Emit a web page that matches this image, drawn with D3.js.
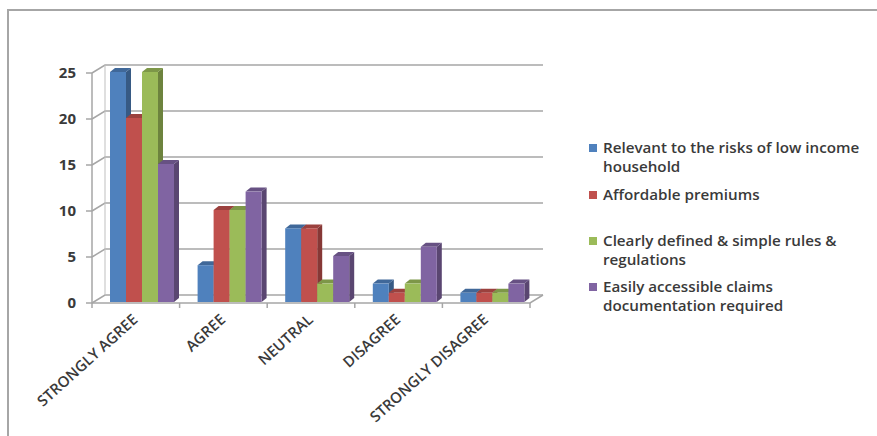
<!DOCTYPE html>
<html>
<head>
<meta charset="utf-8">
<script src="https://d3js.org/d3.v7.min.js"></script>
<style>
  body { margin: 0; background: #fff; }
  text { font-family: "Open Sans", "DejaVu Sans", sans-serif; fill: #3a3a3a; }
</style>
</head>
<body>
<div id="chart"></div>
<script>
var categories = ['STRONGLY AGREE', 'AGREE', 'NEUTRAL', 'DISAGREE', 'STRONGLY DISAGREE'];
var seriesNames = [
    ['Relevant to the risks of low income', 'household'],
    ['Affordable premiums'],
    ['Clearly defined & simple rules &', 'regulations'],
    ['Easily accessible claims', 'documentation required']
];
var relevant = [25, 4, 8, 2, 1];
var affordable = [20, 10, 8, 1, 1];
var clearlyDefined = [25, 10, 2, 2, 1];
var easilyAccessible = [15, 12, 5, 6, 2];
var yTicks = [0, 5, 10, 15, 20, 25];

var series = [relevant, affordable, clearlyDefined, easilyAccessible];
var colors = ['#4f81bd', '#c0504d', '#9bbb59', '#8064a2'];

var width = 877, height = 436;
var depthX = 13, depthY = -8;   // back wall offset
var barDX = 5, barDY = -4;      // bar thickness

var svg = d3.select('#chart').append('svg')
    .attr('width', width)
    .attr('height', height);

// outer frame (top and left edge only visible)
svg.append('path')
    .attr('d', 'M8,' + height + ' L8,10 L' + width + ',10')
    .attr('fill', 'none')
    .attr('stroke', '#a6a6a6')
    .attr('stroke-width', 2);

var x0 = d3.scaleBand().domain(categories).range([92, 530]);
var x1 = d3.scaleBand().domain(d3.range(series.length)).range([18, 82]);
var y = d3.scaleLinear().domain([0, 25]).range([303, 73]);

// gridlines: side wall + back wall
var grid = svg.append('g');
yTicks.forEach(function(t) {
    var yy = y(t);
    grid.append('path')
        .attr('d', 'M92,' + yy + ' L' + (92 + depthX) + ',' + (yy + depthY) +
              ' L' + (530 + depthX) + ',' + (yy + depthY))
        .attr('fill', 'none')
        .attr('stroke', '#a6a6a6')
        .attr('stroke-width', 1.5);
});
// back-left vertical
grid.append('line')
    .attr('x1', 92 + depthX).attr('x2', 92 + depthX)
    .attr('y1', y(25) + depthY).attr('y2', y(0) + depthY)
    .attr('stroke', '#bfbfbf');
// floor front edge and right edge
grid.append('path')
    .attr('d', 'M92,' + y(0) + ' L530,' + y(0) + ' L' + (530 + depthX) + ',' + (y(0) + depthY))
    .attr('fill', 'none')
    .attr('stroke', '#a6a6a6')
    .attr('stroke-width', 1.5);

// y axis
var yAxis = svg.append('g');
yAxis.append('line')
    .attr('x1', 92).attr('x2', 92)
    .attr('y1', y(25)).attr('y2', y(0))
    .attr('stroke', '#a6a6a6').attr('stroke-width', 1.5);
yAxis.selectAll('.tick')
    .data(yTicks)
    .enter().append('line')
    .attr('x1', 86).attr('x2', 92)
    .attr('y1', function(d) { return y(d); })
    .attr('y2', function(d) { return y(d); })
    .attr('stroke', '#a6a6a6').attr('stroke-width', 1.5);
yAxis.selectAll('text')
    .data(yTicks)
    .enter().append('text')
    .attr('x', 76)
    .attr('y', function(d) { return y(d); })
    .attr('dy', '0.35em')
    .attr('text-anchor', 'end')
    .style('font-size', '15px')
    .style('font-weight', 'bold')
    .text(function(d) { return d; });

// x ticks at category boundaries
var bounds = categories.map(function(c) { return x0(c); }).concat([530]);
svg.append('g').selectAll('line')
    .data(bounds)
    .enter().append('line')
    .attr('x1', function(d) { return d; })
    .attr('x2', function(d) { return d; })
    .attr('y1', y(0)).attr('y2', y(0) + 5)
    .attr('stroke', '#a6a6a6').attr('stroke-width', 1.5);

// bars
function shade(c, k) { return d3.color(c).darker(k).toString(); }

var groups = svg.append('g').selectAll('g')
    .data(categories)
    .enter().append('g')
    .attr('transform', function(c) { return 'translate(' + x0(c) + ',0)'; });

groups.each(function(c, ci) {
    var g = d3.select(this);
    series.forEach(function(s, si) {
        var v = s[ci];
        var bx = x1(si), bw = x1.bandwidth();
        var top = y(v) - 1, bottom = y(0) - 1;
        var col = colors[si];
        // side
        g.append('path')
            .attr('d', 'M' + (bx + bw) + ',' + top + ' L' + (bx + bw + barDX) + ',' + (top + barDY) +
                  ' L' + (bx + bw + barDX) + ',' + (bottom + barDY) + ' L' + (bx + bw) + ',' + bottom + 'Z')
            .attr('fill', shade(col, 1));
        // top
        g.append('path')
            .attr('d', 'M' + bx + ',' + top + ' L' + (bx + barDX) + ',' + (top + barDY) +
                  ' L' + (bx + bw + barDX) + ',' + (top + barDY) + ' L' + (bx + bw) + ',' + top + 'Z')
            .attr('fill', shade(col, 0.6));
        // front
        g.append('rect')
            .attr('x', bx).attr('y', top)
            .attr('width', bw).attr('height', bottom - top)
            .attr('fill', col);
    });
});

// category labels
svg.append('g').selectAll('text')
    .data(categories)
    .enter().append('text')
    .attr('transform', function(c) {
        return 'translate(' + (x0(c) + x0.bandwidth() / 2 + 3) + ',' + (y(0) + 18) + ') rotate(-42)';
    })
    .attr('text-anchor', 'end')
    .style('font-size', '15px')
    .style('font-weight', '600')
    .text(function(c) { return c; });

// legend
var legendY = [148, 195, 241, 287];
var legend = svg.append('g').selectAll('g')
    .data(seriesNames)
    .enter().append('g')
    .attr('transform', function(d, i) { return 'translate(589,' + legendY[i] + ')'; });
legend.append('rect')
    .attr('x', 0).attr('y', -4)
    .attr('width', 8).attr('height', 8)
    .attr('fill', function(d, i) { return colors[i]; });
legend.append('text')
    .attr('x', 14)
    .style('font-size', '15.2px')
    .style('font-weight', '600')
    .selectAll('tspan')
    .data(function(d) { return d; })
    .enter().append('tspan')
    .attr('x', 14)
    .attr('dy', function(d, i) { return i === 0 ? '0.35em' : '18.5px'; })
    .text(function(d) { return d; });
</script>
</body>
</html>
